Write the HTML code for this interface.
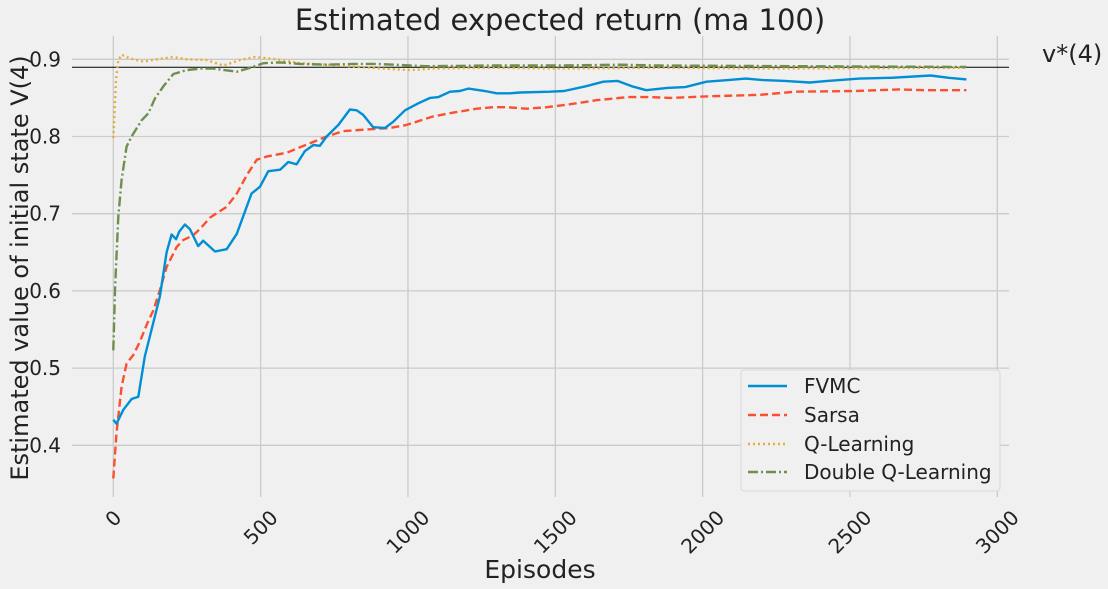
<!DOCTYPE html>
<html><head><meta charset="utf-8"><style>
html,body{margin:0;padding:0;background:#f0f0f0;}
svg{display:block;font-family:"DejaVu Sans","Liberation Sans",sans-serif;}
</style></head><body>
<svg id="chart" width="1108" height="589" viewBox="0 0 1108 589" xmlns="http://www.w3.org/2000/svg">
<rect width="1108" height="589" fill="#f0f0f0"/>
<g id="grid"></g>
<g id="series"></g>
<g id="axes"></g>
<text x="560" y="30" text-anchor="middle" font-size="29" fill="#222">Estimated expected return (ma 100)</text>
<text x="540" y="578" text-anchor="middle" font-size="25" fill="#222">Episodes</text>
<text transform="translate(28,268) rotate(-90)" text-anchor="middle" font-size="24" fill="#222">Estimated value of initial state V(4)</text>
<text x="1042" y="62" font-size="24" fill="#222">v*(4)</text>
<g>
<rect x="741" y="370" width="259" height="121" rx="3" fill="#f0f0f0" stroke="#d8d8d8"/>
<line x1="748" y1="386" x2="787" y2="386" stroke="#008fd5" stroke-width="2.5"/>
<text x="804" y="393" font-size="20" fill="#222">FVMC</text>
<line x1="748" y1="415" x2="787" y2="415" stroke="#fc4f30" stroke-width="2.5" stroke-dasharray="8,4"/>
<text x="804" y="422" font-size="20" fill="#222">Sarsa</text>
<line x1="748" y1="444" x2="787" y2="444" stroke="#e5ae38" stroke-width="2.5" stroke-dasharray="2,3"/>
<text x="804" y="451" font-size="20" fill="#222">Q-Learning</text>
<line x1="748" y1="472" x2="787" y2="472" stroke="#6d904f" stroke-width="2.5" stroke-dasharray="10,3,2,3"/>
<text x="804" y="479" font-size="20" fill="#222">Double Q-Learning</text>
</g>
</svg>
<script>
const xTicks = [0, 500, 1000, 1500, 2000, 2500, 3000];
const yTicks = [0.4, 0.5, 0.6, 0.7, 0.8, 0.9];
const yTickLabels = ["0.4", "0.5", "0.6", "0.7", "0.8", "0.9"];
const optimalValue = 0.8897;
const fvmcEp = [0,11,34,62,85,107,130,158,181,198,213,224,243,260,288,305,345,385,419,469,498,526,566,594,622,650,679,701,724,764,803,826,848,882,922,950,990,1035,1075,1103,1143,1176,1205,1261,1301,1346,1380,1482,1530,1603,1663,1711,1760,1808,1880,1941,2013,2086,2146,2206,2279,2363,2424,2532,2641,2774,2835,2895];
const fvmcVal = [0.433,0.428,0.446,0.46,0.463,0.515,0.55,0.593,0.65,0.673,0.667,0.677,0.686,0.68,0.658,0.665,0.651,0.654,0.674,0.726,0.735,0.755,0.757,0.767,0.764,0.781,0.789,0.788,0.8,0.815,0.835,0.834,0.828,0.812,0.811,0.819,0.834,0.843,0.85,0.851,0.858,0.859,0.862,0.859,0.856,0.856,0.857,0.858,0.859,0.865,0.871,0.872,0.865,0.86,0.863,0.864,0.871,0.873,0.875,0.873,0.872,0.87,0.872,0.875,0.876,0.879,0.876,0.874];
const sarsaEp = [0,11,28,45,68,90,113,136,158,181,215,238,271,294,328,385,419,453,487,520,589,633,679,724,780,894,939,995,1086,1154,1233,1290,1335,1403,1471,1554,1639,1747,1820,1892,2013,2195,2315,2520,2665,2750,2895];
const sarsaVal = [0.357,0.416,0.476,0.506,0.517,0.534,0.556,0.575,0.601,0.631,0.657,0.666,0.672,0.68,0.695,0.709,0.726,0.75,0.77,0.774,0.779,0.786,0.793,0.8,0.807,0.81,0.811,0.815,0.826,0.831,0.836,0.838,0.838,0.836,0.838,0.842,0.847,0.851,0.851,0.85,0.852,0.854,0.858,0.859,0.861,0.86,0.86];
const qEp = [0,9,17,28,57,102,147,204,249,317,373,430,481,554,633,724,837,916,1007,1086,1290,1516,1844,2243,2895];
const qVal = [0.798,0.873,0.899,0.906,0.901,0.897,0.9,0.903,0.9,0.899,0.892,0.899,0.903,0.9,0.895,0.893,0.89,0.888,0.886,0.888,0.889,0.888,0.889,0.888,0.889];
const dqEp = [0,6,17,28,45,62,96,119,141,170,204,249,294,339,419,464,509,566,633,724,814,894,1007,1063,1290,1516,1724,1844,2327,2895];
const dqVal = [0.523,0.605,0.696,0.744,0.787,0.8,0.821,0.83,0.849,0.865,0.881,0.886,0.888,0.888,0.884,0.889,0.895,0.896,0.894,0.893,0.894,0.894,0.892,0.891,0.892,0.892,0.893,0.892,0.891,0.89];

const NS = "http://www.w3.org/2000/svg";
const L = 72, R = 1009, T = 36, B = 490;
function xs(v){ return 113.3 + v * 0.29467; }
function ys(v){ return 59.3 + (0.9 - v) * 772; }
function mk(tag, attrs, parent){ const e = document.createElementNS(NS, tag); for (const k in attrs) e.setAttribute(k, attrs[k]); parent.appendChild(e); return e; }
const grid = document.getElementById('grid'), axes = document.getElementById('axes'), series = document.getElementById('series');
xTicks.forEach(t => {
  const g = mk('line', {x1: xs(t), x2: xs(t), y1: T, y2: B + 7, stroke: '#cbcbcb', 'stroke-width': 1.3}, grid);
  
  
  const lbl = String(t);
  const w = lbl.length * 12.7;
  const cy = 509 + (w + 14) * 0.707 / 2;
  const tx = mk('text', {x: xs(t), y: cy, 'text-anchor': 'middle', 'dominant-baseline': 'central', 'font-size': 20, fill: '#222', transform: `rotate(-45 ${xs(t)} ${cy})`}, axes);
  tx.textContent = lbl;
  
  
});
yTicks.forEach((t, i) => {
  const g = mk('line', {x1: L, x2: R, y1: ys(t), y2: ys(t), stroke: '#cbcbcb', 'stroke-width': 1.3}, grid);
  
  
  const tx = mk('text', {x: 61, y: ys(t) + 7, 'text-anchor': 'end', 'font-size': 20, fill: '#222'}, axes);
  tx.textContent = yTickLabels[i];
  
  
});
const ref = mk('line', {x1: L, x2: R, y1: ys(optimalValue), y2: ys(optimalValue), stroke: '#000', 'stroke-width': 1}, series);


function draw(ep, val, color, dash, name){
  const d = ep.map((e, i) => (i ? 'L' : 'M') + xs(e).toFixed(1) + ',' + ys(val[i]).toFixed(1)).join(' ');
  const p = mk('path', {d: d, fill: 'none', stroke: color, 'stroke-width': 2.4, 'stroke-linejoin': 'round'}, series);
  if (dash) p.setAttribute('stroke-dasharray', dash);
  
  
}
draw(qEp, qVal, '#e5ae38', '2,3', 'q-learning-line');
draw(dqEp, dqVal, '#6d904f', '10,3,2,3', 'double-q-learning-line');
draw(sarsaEp, sarsaVal, '#fc4f30', '8,4', 'sarsa-line');
draw(fvmcEp, fvmcVal, '#008fd5', null, 'fvmc-line');
</script>
</body></html>
